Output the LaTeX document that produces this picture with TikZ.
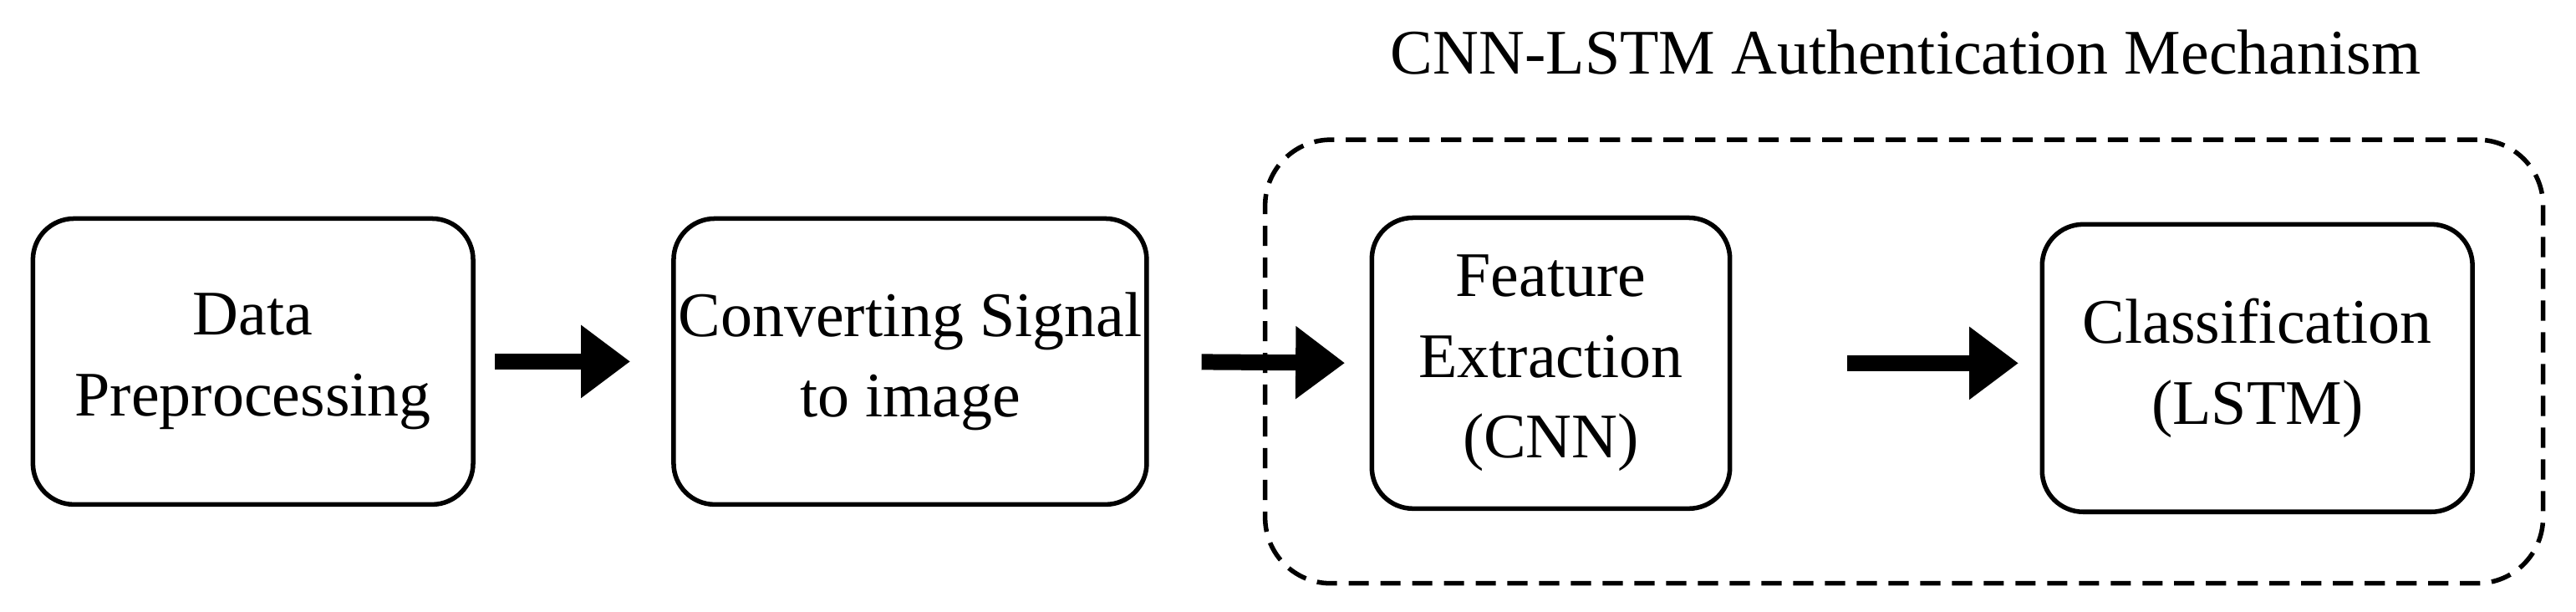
\documentclass[tikz,border=0pt]{standalone}
\usepackage{fontspec}
\setmainfont{Liberation Serif}
\usetikzlibrary{arrows.meta}
\begin{document}
\begin{tikzpicture}[x=0.02cm,y=-0.02cm,
  box/.style={draw,line width=1.6pt,rounded corners=0.5cm,align=center,font=\fontsize{22}{28}\selectfont,inner sep=0pt},
  arr/.style={line width=5.5pt,-{Triangle[length=0.6cm,width=0.85cm]}}]
\useasboundingbox (0,0) rectangle (1568,372);
\node[box,minimum width=5.36cm,minimum height=3.48cm] (b1) at (154,220) {Data\\Preprocessing};
\node[box,minimum width=5.76cm,minimum height=3.48cm] (b2) at (554,220) {Converting Signal\\to image};
\node[box,minimum width=4.36cm,minimum height=3.54cm] (b3) at (944,221) {Feature\\Extraction\\(CNN)};
\node[box,minimum width=5.24cm,minimum height=3.5cm] (b4) at (1374,224) {Classification\\(LSTM)};
\node[draw,line width=1.6pt,dash pattern=on 7pt off 4pt,rounded corners=0.8cm,minimum width=15.56cm,minimum height=5.4cm] (d) at (1159,220) {};
\node[font=\fontsize{22}{28}\selectfont] (t) at (1160,32) {CNN-LSTM Authentication Mechanism};
\draw[arr,shorten <=0.24cm,shorten >=0.5cm] (b1.east) -- (b2.west);
\draw[arr,shorten <=0.64cm,shorten >=0.3cm] (b2.east) -- (b3.west);
\draw[arr,shorten <=1.4cm,shorten >=0.26cm] (b3.east) -- (b4.west|-b3.east);
\end{tikzpicture}
\end{document}
